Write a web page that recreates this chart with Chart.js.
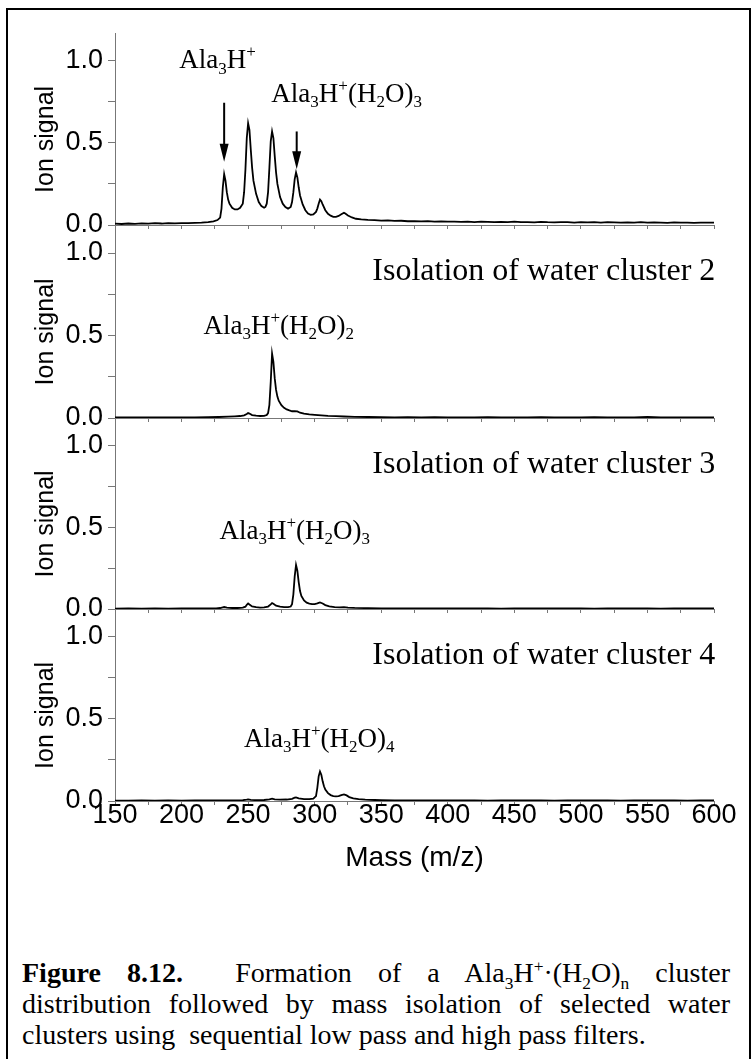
<!DOCTYPE html>
<html>
<head>
<meta charset="utf-8">
<script src="https://cdn.jsdelivr.net/npm/chart.js@4/dist/chart.umd.min.js"></script>
<style>
  html, body { margin: 0; padding: 0; background: #fff; overflow: hidden; }
  #page { position: relative; width: 752px; height: 1059px; overflow: hidden; }
  #frame { position: absolute; left: 6px; top: 8px; width: 741px; height: 1120px; border: 2px solid #000; }
  canvas { position: absolute; left: 0; }
  #caption {
    position: absolute; left: 22px; top: 957px; width: 708px; margin: 0;
    font-family: "Liberation Serif", "Times New Roman", serif; font-size: 28px;
    line-height: 31px; color: #000;
  }
  #caption div { text-align: justify; white-space: nowrap; }
  #caption .just { text-align-last: justify; }
  #caption sub, #caption sup { font-size: 0.62em; line-height: 0; }
</style>
</head>
<body>
<div id="page">
  <div id="frame"></div>
  <canvas id="p1"></canvas>
  <canvas id="p2"></canvas>
  <canvas id="p3"></canvas>
  <canvas id="p4"></canvas>
  <div id="caption">
    <div class="just"><b>Figure 8.12.</b>&nbsp; Formation of a Ala<sub>3</sub>H<sup>+</sup>·(H<sub>2</sub>O)<sub>n</sub> cluster</div>
    <div class="just">distribution followed by mass isolation of selected water</div>
    <div>clusters using&nbsp; sequential low pass and high pass filters.</div>
  </div>
</div>
<script>
// --- panel 1: full cluster distribution
const mass1 = [150, 155, 160, 165, 170, 175, 180, 185, 190, 195,
  200, 205, 210, 215, 220, 224, 227, 229, 230, 231,
  232, 233, 234, 235, 236, 238, 240, 242, 244, 246,
  247, 248, 249, 250, 251, 252, 253, 254, 256, 258,
  260, 262, 263, 264, 265, 266, 267, 268, 269, 270,
  271, 272, 274, 276, 278, 280, 282, 283, 284, 285,
  286, 287, 288, 289, 291, 293, 295, 297, 299, 301,
  302, 303, 304, 305, 306, 308, 310, 312, 314, 316,
  318, 320, 322, 323, 325, 328, 331, 335, 340, 345,
  350, 355, 360, 365, 370, 375, 380, 385, 390, 395,
  400, 405, 410, 415, 420, 425, 430, 435, 440, 445,
  450, 455, 460, 465, 470, 475, 480, 485, 490, 495,
  500, 505, 510, 515, 520, 525, 530, 535, 540, 545,
  550, 555, 560, 565, 570, 575, 580, 585, 590, 595,
  600];
const signal1 = [.008, .006, .009, .007, .010, .008, .011, .009, .012, .010,
  .012, .011, .013, .014, .017, .022, .030, .045, .100, .230,
  .310, .270, .200, .155, .130, .105, .095, .095, .105, .130,
  .200, .340, .530, .620, .580, .460, .350, .270, .190, .140,
  .115, .105, .110, .130, .200, .350, .510, .570, .530, .420,
  .320, .250, .170, .130, .110, .100, .110, .140, .200, .280,
  .320, .290, .230, .180, .125, .090, .070, .062, .065, .080,
  .100, .130, .155, .145, .125, .090, .068, .057, .050, .050,
  .055, .065, .075, .070, .058, .046, .038, .034, .031, .030,
  .027, .028, .025, .026, .023, .024, .022, .023, .021, .022,
  .020, .021, .019, .021, .018, .020, .019, .017, .019, .018,
  .020, .017, .018, .016, .019, .017, .016, .018, .017, .015,
  .018, .016, .017, .015, .017, .016, .014, .016, .015, .017,
  .014, .016, .015, .013, .016, .014, .015, .013, .015, .014,
  .014];

// --- panel 2: isolation of water cluster 2
const mass2 = [150, 160, 170, 180, 190, 200, 210, 220, 228, 235,
  240, 244, 247, 249, 250, 251, 253, 256, 259, 262,
  264, 265, 266, 267, 268, 269, 270, 271, 272, 273,
  275, 277, 279, 281, 283, 285, 287, 289, 292, 296,
  300, 305, 310, 316, 322, 330, 340, 350, 360, 370,
  380, 390, 400, 410, 420, 430, 440, 450, 460, 470,
  480, 490, 500, 510, 520, 530, 540, 550, 560, 570,
  580, 590, 600];
const signal2 = [.003, .004, .003, .004, .003, .004, .004, .005, .006, .008,
  .010, .012, .016, .024, .030, .027, .018, .014, .012, .013,
  .018, .030, .080, .220, .390, .340, .240, .170, .130, .105,
  .078, .062, .052, .046, .041, .042, .040, .032, .026, .022,
  .019, .016, .013, .011, .009, .007, .006, .005, .004, .005,
  .004, .005, .004, .003, .004, .005, .004, .003, .004, .005,
  .004, .003, .004, .005, .004, .003, .004, .006, .004, .003,
  .004, .003, .004];

// --- panel 3: isolation of water cluster 3
const mass3 = [150, 160, 170, 180, 190, 200, 210, 220, 226, 229,
  231, 232, 234, 238, 242, 246, 248, 249, 250, 251,
  253, 256, 259, 262, 265, 267, 268, 269, 271, 274,
  277, 280, 282, 283, 284, 285, 286, 287, 288, 289,
  290, 292, 294, 296, 298, 300, 302, 304, 306, 308,
  311, 315, 319, 322, 325, 330, 340, 350, 360, 370,
  380, 390, 400, 410, 420, 430, 440, 450, 460, 470,
  480, 490, 500, 510, 520, 530, 540, 550, 560, 570,
  580, 590, 600];
const signal3 = [.002, .003, .002, .003, .002, .003, .003, .003, .004, .006,
  .010, .012, .008, .006, .006, .008, .014, .026, .034, .028,
  .016, .011, .009, .010, .015, .028, .036, .032, .020, .014,
  .012, .012, .015, .030, .090, .200, .270, .235, .165, .110,
  .080, .052, .039, .033, .030, .030, .034, .040, .034, .024,
  .016, .012, .010, .012, .009, .007, .005, .004, .003, .004,
  .003, .004, .003, .003, .004, .003, .002, .003, .004, .003,
  .003, .004, .003, .002, .003, .004, .003, .003, .002, .003,
  .004, .003, .003];

// --- panel 4: isolation of water cluster 4
const mass4 = [150, 160, 170, 180, 190, 200, 210, 220, 230, 240,
  246, 249, 250, 252, 256, 262, 266, 268, 270, 274,
  279, 283, 285, 286, 288, 292, 296, 299, 301, 302,
  303, 304, 305, 306, 307, 308, 310, 312, 314, 316,
  318, 320, 322, 324, 326, 329, 333, 338, 345, 350,
  360, 370, 380, 390, 400, 410, 420, 430, 440, 450,
  460, 470, 480, 490, 500, 510, 520, 530, 540, 550,
  560, 570, 580, 590, 600];
const signal4 = [.002, .002, .003, .002, .003, .002, .003, .003, .003, .004,
  .005, .008, .010, .007, .005, .006, .010, .014, .010, .008,
  .009, .013, .020, .022, .016, .012, .012, .015, .030, .080,
  .150, .180, .160, .120, .090, .070, .048, .036, .030, .028,
  .030, .036, .040, .034, .024, .016, .011, .008, .006, .005,
  .004, .003, .004, .003, .003, .004, .003, .002, .003, .004,
  .003, .003, .002, .003, .004, .003, .003, .002, .003, .003,
  .004, .003, .002, .003, .003];

// label texts ([text, 0 normal / -1 subscript / 1 superscript])
const labelBare = [['Ala', 0], ['3', -1], ['H', 0], ['+', 1]];
const labelW2 = [['Ala', 0], ['3', -1], ['H', 0], ['+', 1], ['(H', 0], ['2', -1], ['O)', 0], ['2', -1]];
const labelW3 = [['Ala', 0], ['3', -1], ['H', 0], ['+', 1], ['(H', 0], ['2', -1], ['O)', 0], ['3', -1]];
const labelW4 = [['Ala', 0], ['3', -1], ['H', 0], ['+', 1], ['(H', 0], ['2', -1], ['O)', 0], ['4', -1]];
const isoLabels = ['Isolation of water cluster 2', 'Isolation of water cluster 3', 'Isolation of water cluster 4'];

const SANS = '"Liberation Sans", Arial, sans-serif';
const SERIF = '"Liberation Serif", "Times New Roman", serif';
const AXIS = '#777';
const PAD_TOP = 20;

// draws text with sub/superscripts, y = baseline
function drawRich(ctx, parts, x, y, size, align) {
  const big = size + 'px ' + SERIF;
  const small = Math.round(size * 0.64) + 'px ' + SERIF;
  let total = 0;
  const widths = parts.map(([t, k]) => {
    ctx.font = k ? small : big;
    const w = ctx.measureText(t).width;
    total += w;
    return w;
  });
  let cx = align === 'right' ? x - total : x - total / 2;
  ctx.textAlign = 'left';
  ctx.textBaseline = 'alphabetic';
  parts.forEach(([t, k], i) => {
    ctx.font = k ? small : big;
    const dy = k < 0 ? size * 0.2 : k > 0 ? -size * 0.4 : 0;
    ctx.fillText(t, cx, y + dy);
    cx += widths[i];
  });
}

function notesPlugin(p) {
  return {
    id: 'notes',
    afterDatasetsDraw(chart) {
      const { ctx, scales: { x, y } } = chart;
      ctx.save();
      ctx.fillStyle = '#000';
      ctx.strokeStyle = '#000';
      p.notes.forEach(n => {
        drawRich(ctx, n.parts, x.getPixelForValue(n.m), y.getPixelForValue(n.v), n.size, n.align);
      });
      (p.arrows || []).forEach(a => {
        const px = x.getPixelForValue(a.m);
        const y0 = y.getPixelForValue(a.from);
        const y1 = y.getPixelForValue(a.to);
        ctx.lineWidth = 2;
        ctx.beginPath();
        ctx.moveTo(px, y0);
        ctx.lineTo(px, y1 - 16);
        ctx.stroke();
        ctx.beginPath();
        ctx.moveTo(px, y1);
        ctx.lineTo(px - 4.5, y1 - 18);
        ctx.lineTo(px + 4.5, y1 - 18);
        ctx.closePath();
        ctx.fill();
      });
      ctx.restore();
    }
  };
}

const panels = [
  { id: 'p1', mass: mass1, signal: signal1, top: 33, bottom: 225,
    notes: [
      { parts: labelBare, m: 227, v: 0.955, size: 27 },
      { parts: labelW3, m: 324, v: 0.75, size: 27 }
    ],
    arrows: [
      { m: 232, from: 0.745, to: 0.385 },
      { m: 286.5, from: 0.57, to: 0.34 }
    ] },
  { id: 'p2', mass: mass2, signal: signal2, top: 225, bottom: 418,
    notes: [
      { parts: [[isoLabels[0], 0]], m: 601, v: 0.836, size: 32, align: 'right' },
      { parts: labelW2, m: 273, v: 0.51, size: 27 }
    ] },
  { id: 'p3', mass: mass3, signal: signal3, top: 418, bottom: 609,
    notes: [
      { parts: [[isoLabels[1], 0]], m: 601, v: 0.836, size: 32, align: 'right' },
      { parts: labelW3, m: 285, v: 0.43, size: 27 }
    ] },
  { id: 'p4', mass: mass4, signal: signal4, top: 609, bottom: 801,
    notes: [
      { parts: [[isoLabels[2], 0]], m: 601, v: 0.836, size: 32, align: 'right' },
      { parts: labelW4, m: 303.5, v: 0.33, size: 27 }
    ] }
];

panels.forEach((p, i) => {
  const last = i === panels.length - 1;
  const xh = last ? 74 : 12;
  const canvas = document.getElementById(p.id);
  canvas.width = 752;
  canvas.height = PAD_TOP + (p.bottom - p.top) + xh;
  canvas.style.top = (p.top - PAD_TOP) + 'px';

  new Chart(canvas, {
    type: 'line',
    data: {
      datasets: [{
        data: p.mass.map((m, k) => ({ x: m, y: p.signal[k] })),
        borderColor: '#000',
        borderWidth: 1.8,
        pointRadius: 0,
        tension: 0,
        fill: false
      }]
    },
    options: {
      responsive: false,
      animation: false,
      events: [],
      layout: { padding: { top: PAD_TOP, right: 38, bottom: 0, left: 0 } },
      plugins: { legend: { display: false }, tooltip: { enabled: false } },
      scales: {
        x: {
          type: 'linear', min: 150, max: 600,
          afterFit: s => { s.height = xh; s.paddingLeft = 0; s.paddingRight = 0; },
          border: { display: true, color: AXIS, width: 1 },
          grid: { drawOnChartArea: false, drawTicks: true, tickLength: 4, color: AXIS, tickColor: AXIS },
          ticks: {
            display: last, stepSize: 25, autoSkip: false, maxRotation: 0, padding: -3,
            color: '#000', font: { family: SANS, size: 27, lineHeight: 1 },
            callback: v => (v % 50 === 0 ? String(v) : '')
          },
          title: {
            display: last, text: 'Mass (m/z)', color: '#000',
            font: { family: SANS, size: 28 }, padding: { top: 0, bottom: 0 }
          }
        },
        y: {
          min: 0, max: 1.17,
          afterFit: s => { s.width = 115; s.paddingTop = 0; s.paddingBottom = 0; },
          border: { display: true, color: AXIS, width: 1 },
          grid: { drawOnChartArea: false, drawTicks: true, tickLength: 7, color: AXIS, tickColor: AXIS },
          ticks: {
            stepSize: 0.25, includeBounds: false, autoSkip: false, padding: 5,
            color: '#000', font: { family: SANS, size: 27 },
            callback: v => (Math.abs(v * 2 - Math.round(v * 2)) < 1e-6 ? v.toFixed(1) : '')
          },
          title: {
            display: true, text: 'Ion signal   ', color: '#000',
            font: { family: SANS, size: 25 }, padding: { top: 31, bottom: 0 }
          }
        }
      }
    },
    plugins: [notesPlugin(p)]
  });
});
</script>
</body>
</html>
